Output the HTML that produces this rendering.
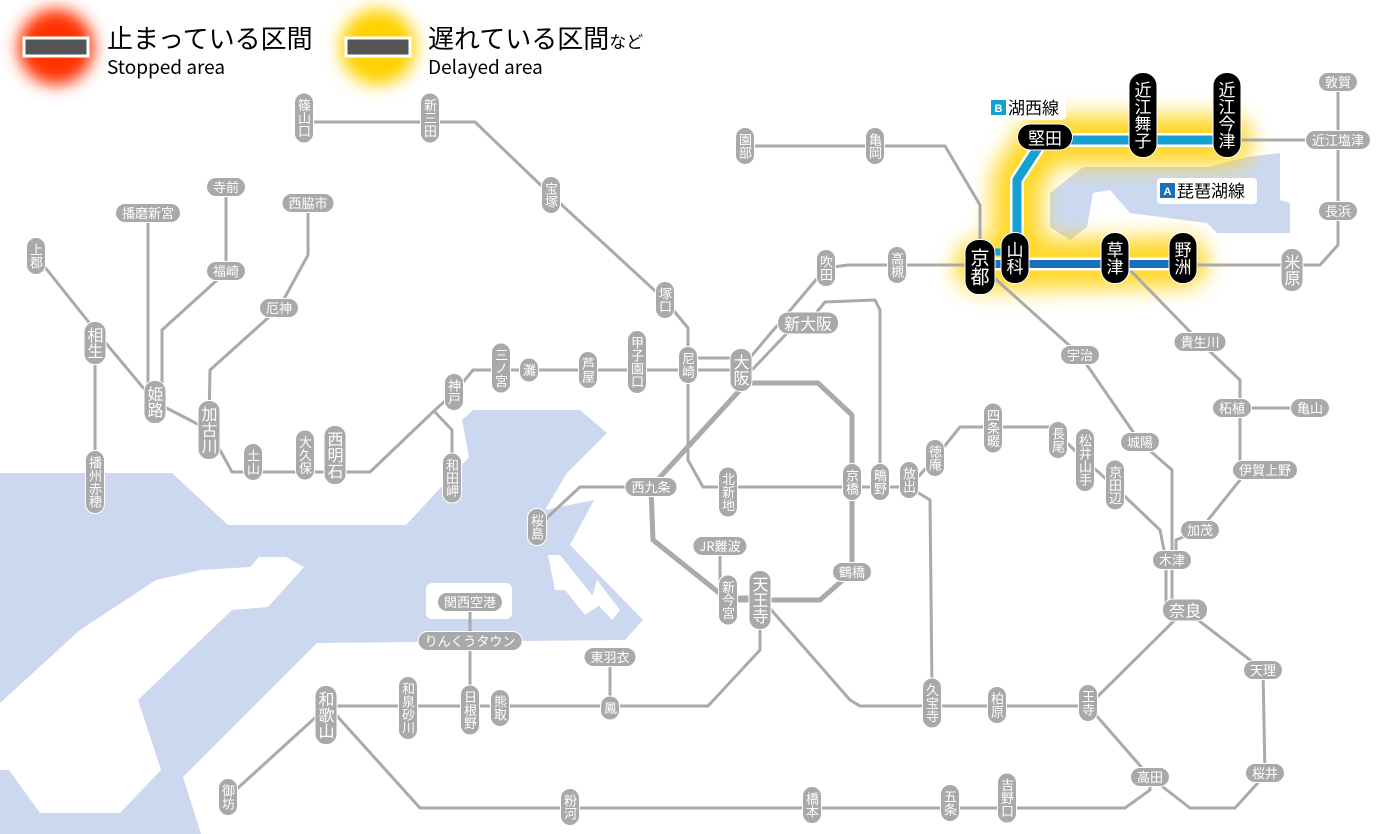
<!DOCTYPE html>
<html><head><meta charset="utf-8"><style>
body{margin:0;background:#fff;}
#w{position:relative;width:1400px;height:834px;overflow:hidden;font-family:"Liberation Sans","Noto Sans CJK JP",sans-serif;}
svg{position:absolute;left:0;top:0;}
.s{position:absolute;transform:translate(-50%,-50%);background:#a9a9a9;color:#fff;font-size:13px;line-height:14px;border:1.5px solid #fff;border-radius:11px;white-space:nowrap;font-family:"Noto Sans CJK JP",sans-serif;}
.v{writing-mode:vertical-rl;padding:5px 2px;}
.h{padding:2px 6px;}
.L{font-size:16px;line-height:17px;}
.b{background:#000;font-size:17px;line-height:19px;border-color:#fff;border-radius:14px;}
.b.v{padding:8px 4px;}
.lg{position:absolute;font-family:"Noto Sans CJK JP",sans-serif;color:#000;}
</style></head><body><div id="w">
<svg width="1400" height="834" viewBox="0 0 1400 834">
<defs>
<filter id="bl" x="-50%" y="-50%" width="200%" height="200%"><feGaussianBlur stdDeviation="11"/></filter>
<filter id="bl2" x="-50%" y="-50%" width="200%" height="200%"><feGaussianBlur stdDeviation="8"/></filter>
</defs>
<path fill="#cbd8f0" d="M0,473 L172,473 L228,525 L406,525 L469,457 L462,420 L473,410 L580,410 L607,433 L567,473 L545,510 L594,500 L570,545 L643,620 L625,640 L317,643 L183,777 L201,834 L0,834 Z"/>
<path fill="#fff" d="M9,770 L40,813 L120,813 L161,770 L138,700 L232,610 L268,607 L304,567 L286,557 L259,557 L250,567 L201,570 L156,580 L80,630 L0,703 L0,770 Z"/>
<rect x="426" y="583" width="86" height="36" rx="6" fill="#fff"/>
<path fill="#fff" d="M548,555 L560,555 L600,605 L585,615 L565,590 L555,590Z M597,580 L620,610 L612,620 L592,598Z"/>
<path fill="#cbd8f0" d="M1050,193 L1083,167 L1207,167 L1247,157 L1280,153 L1280,200 L1290,203 L1290,233 L1217,233 L1207,223 L1130,213 L1110,190 L1093,193 L1087,227 L1070,240 L1050,227 Z"/>
<circle cx="56" cy="47" r="38" fill="#ff3000" filter="url(#bl2)"/>
<circle cx="378" cy="47" r="38" fill="#ffd200" filter="url(#bl2)"/>
<rect x="24" y="38" width="64" height="18" fill="#555" stroke="#fff" stroke-width="3"/>
<rect x="346" y="38" width="64" height="18" fill="#555" stroke="#fff" stroke-width="3"/>
<g stroke="#ffd000" fill="none" stroke-width="50" stroke-linejoin="round" stroke-linecap="round" filter="url(#bl)" opacity="0.85">
<polyline points="980,265 1183,262"/>
<polyline points="1017,258 1017,180 1043,140 1227,140"/>
</g>
<g stroke="#aaa" fill="none" stroke-width="3" stroke-linejoin="round">
<polyline points="304,122 475,122 551,195 665,300 688,328 688,460 703,487 852,487 909,487"/>
<polyline points="688,358 740,358"/>
<polyline points="455,392 473,370 740,370"/>
<polyline points="36,256 95,330 155,402 209,430 232,472 370,472 435,410 455,392"/>
<polyline points="433,410 452,430 452,480"/>
<polyline points="95,343 95,480"/>
<polyline points="148,213 148,400"/>
<polyline points="226,187 226,272 162,330 162,400"/>
<polyline points="308,203 308,255 279,308 210,370 209,420"/>
<polyline points="740,390 651,487 580,487 537,527"/>
<polyline points="745,146 945,146 980,205 980,265 1183,265 1292,265 1320,265 1338,245 1338,82"/>
<polyline points="1227,140 1338,140"/>
<polyline points="748,360 826,268 848,265 980,265"/>
<polyline points="752,370 790,330 808,323 825,302 875,300 880,310 880,485"/>
<polyline points="909,487 935,458 960,427 1050,427 1085,460 1115,487 1160,530 1166,560 1166,610"/>
<polyline points="909,487 930,500 932,690 932,706 1088,706 1185,610 1263,670 1265,775 1235,808 1190,808 1150,777 1088,706"/>
<polyline points="760,597 850,700 860,706 932,706"/>
<polyline points="760,597 760,650 708,706 328,706 228,797"/>
<polyline points="610,657 610,706"/>
<polyline points="470,602 470,706"/>
<polyline points="328,706 420,808 1125,808 1150,790 1150,777"/>
<polyline points="980,265 1080,355 1140,442 1172,470 1172,560 1172,610"/>
<polyline points="1176,560 1176,540 1200,530 1240,480 1240,408 1310,408"/>
<polyline points="1240,408 1240,380 1200,342 1130,270"/>
<polyline points="720,546 720,585 728,597 760,597"/>
</g>
<g stroke="#aaa" fill="none" stroke-width="5" stroke-linejoin="round">
<polyline points="740,383 818,383 852,415 852,572 820,600 728,600 653,540 651,487 740,390"/>
</g>
<g fill="none" stroke-linejoin="round">
<polyline points="1017,258 1017,180 1043,140 1227,140" stroke="#fff" stroke-width="14"/>
<polyline points="1017,258 1017,180 1043,140 1227,140" stroke="#16a0cf" stroke-width="9"/>
<polyline points="980,252 1017,252" stroke="#16a0cf" stroke-width="7"/>
<polyline points="980,264 1183,264" stroke="#fff" stroke-width="13"/>
<polyline points="980,264 1183,264" stroke="#1870b8" stroke-width="8"/>
</g>
<rect x="988" y="96" width="78" height="24" rx="4" fill="#fff"/>
<rect x="1157" y="178" width="100" height="26" rx="4" fill="#fff"/>
<rect x="991" y="100" width="15" height="15" fill="#16a0cf"/>
<rect x="1160" y="183" width="15" height="15" fill="#1870b8"/>
<text x="998.5" y="112" font-size="11" fill="#fff" text-anchor="middle" font-family="Liberation Sans,sans-serif" font-weight="bold">B</text>
<text x="1167.5" y="195" font-size="11" fill="#fff" text-anchor="middle" font-family="Liberation Sans,sans-serif" font-weight="bold">A</text>
<text x="1008" y="114" font-size="17" fill="#000" font-family="Noto Sans CJK JP,sans-serif">湖西線</text>
<text x="1177" y="197" font-size="17" fill="#000" font-family="Noto Sans CJK JP,sans-serif">琵琶湖線</text>
</svg>
<div class="lg" style="left:107px;top:22px;font-size:26px;line-height:32px;">止まっている区間</div>
<div class="lg" style="left:107px;top:53px;font-size:19px;">Stopped area</div>
<div class="lg" style="left:428px;top:22px;font-size:26px;line-height:32px;">遅れている区間<span style="font-size:17px">など</span></div>
<div class="lg" style="left:428px;top:53px;font-size:19px;">Delayed area</div>

<div class="s v" style="left:304px;top:118px">篠山口</div>
<div class="s v" style="left:430px;top:118px">新三田</div>
<div class="s v" style="left:551px;top:195px">宝塚</div>
<div class="s v" style="left:665px;top:300px">塚口</div>
<div class="s v" style="left:688px;top:365px">尼崎</div>
<div class="s v" style="left:637px;top:362px">甲子園口</div>
<div class="s v" style="left:588px;top:370px">芦屋</div>
<div class="s v" style="left:529px;top:370px">灘</div>
<div class="s v" style="left:501px;top:368px">三ノ宮</div>
<div class="s v" style="left:454px;top:392px">神戸</div>
<div class="s v" style="left:36px;top:256px">上郡</div>
<div class="s v L" style="left:95px;top:343px">相生</div>
<div class="s v L" style="left:155px;top:402px">姫路</div>
<div class="s v L" style="left:209px;top:430px">加古川</div>
<div class="s v" style="left:253px;top:462px">土山</div>
<div class="s v" style="left:305px;top:455px">大久保</div>
<div class="s v L" style="left:335px;top:455px">西明石</div>
<div class="s v" style="left:452px;top:478px">和田岬</div>
<div class="s v" style="left:95px;top:482px">播州赤穂</div>
<div class="s h" style="left:148px;top:213px">播磨新宮</div>
<div class="s h" style="left:226px;top:187px">寺前</div>
<div class="s h" style="left:226px;top:271px">福崎</div>
<div class="s h" style="left:308px;top:203px">西脇市</div>
<div class="s h" style="left:279px;top:308px">厄神</div>
<div class="s v L" style="left:741px;top:370px">大阪</div>
<div class="s h L" style="left:808px;top:323px">新大阪</div>
<div class="s v" style="left:826px;top:268px">吹田</div>
<div class="s v" style="left:897px;top:265px">高槻</div>
<div class="s v" style="left:875px;top:146px">亀岡</div>
<div class="s v" style="left:745px;top:146px">園部</div>
<div class="s v" style="left:728px;top:492px">北新地</div>
<div class="s v" style="left:852px;top:482px">京橋</div>
<div class="s v" style="left:880px;top:482px">鴫野</div>
<div class="s v" style="left:909px;top:480px">放出</div>
<div class="s v" style="left:935px;top:458px">徳庵</div>
<div class="s v" style="left:993px;top:428px">四条畷</div>
<div class="s v" style="left:1058px;top:440px">長尾</div>
<div class="s v" style="left:1085px;top:460px">松井山手</div>
<div class="s v" style="left:1115px;top:485px">京田辺</div>
<div class="s h" style="left:651px;top:487px">西九条</div>
<div class="s v" style="left:537px;top:527px">桜島</div>
<div class="s h" style="left:720px;top:546px">JR難波</div>
<div class="s h" style="left:852px;top:572px">鶴橋</div>
<div class="s v" style="left:728px;top:600px">新今宮</div>
<div class="s v L" style="left:760px;top:600px">天王寺</div>
<div class="s h" style="left:470px;top:602px">関西空港</div>
<div class="s h" style="left:470px;top:641px">りんくうタウン</div>
<div class="s h" style="left:610px;top:657px">東羽衣</div>
<div class="s v" style="left:610px;top:708px">鳳</div>
<div class="s v" style="left:500px;top:708px">熊取</div>
<div class="s v" style="left:470px;top:710px">日根野</div>
<div class="s v" style="left:408px;top:708px">和泉砂川</div>
<div class="s v L" style="left:326px;top:715px">和歌山</div>
<div class="s v" style="left:228px;top:797px">御坊</div>
<div class="s v" style="left:570px;top:807px">粉河</div>
<div class="s v" style="left:812px;top:805px">橋本</div>
<div class="s v" style="left:950px;top:803px">五条</div>
<div class="s v" style="left:1007px;top:798px">吉野口</div>
<div class="s v" style="left:932px;top:703px">久宝寺</div>
<div class="s v" style="left:997px;top:705px">柏原</div>
<div class="s v" style="left:1088px;top:703px">王寺</div>
<div class="s h" style="left:1150px;top:777px">高田</div>
<div class="s h" style="left:1265px;top:773px">桜井</div>
<div class="s h" style="left:1263px;top:670px">天理</div>
<div class="s h L" style="left:1185px;top:610px">奈良</div>
<div class="s h" style="left:1172px;top:560px">木津</div>
<div class="s h" style="left:1200px;top:530px">加茂</div>
<div class="s h" style="left:1265px;top:470px">伊賀上野</div>
<div class="s h" style="left:1232px;top:408px">柘植</div>
<div class="s h" style="left:1310px;top:408px">亀山</div>
<div class="s h" style="left:1200px;top:342px">貴生川</div>
<div class="s h" style="left:1080px;top:355px">宇治</div>
<div class="s h" style="left:1140px;top:442px">城陽</div>
<div class="s h" style="left:1338px;top:82px">敦賀</div>
<div class="s h" style="left:1338px;top:140px">近江塩津</div>
<div class="s h" style="left:1338px;top:211px">長浜</div>
<div class="s v L" style="left:1292px;top:270px">米原</div>

<div class="s v b" style="left:980px;top:267px;font-size:19px;line-height:21px;">京都</div>
<div class="s v b" style="left:1015px;top:258px">山科</div>
<div class="s v b" style="left:1115px;top:258px">草津</div>
<div class="s v b" style="left:1183px;top:258px">野洲</div>
<div class="s v b" style="left:1143px;top:115px">近江舞子</div>
<div class="s v b" style="left:1227px;top:115px">近江今津</div>
<div class="s h b" style="left:1045px;top:137px;padding:3px 10px;">堅田</div>
</div></body></html>
